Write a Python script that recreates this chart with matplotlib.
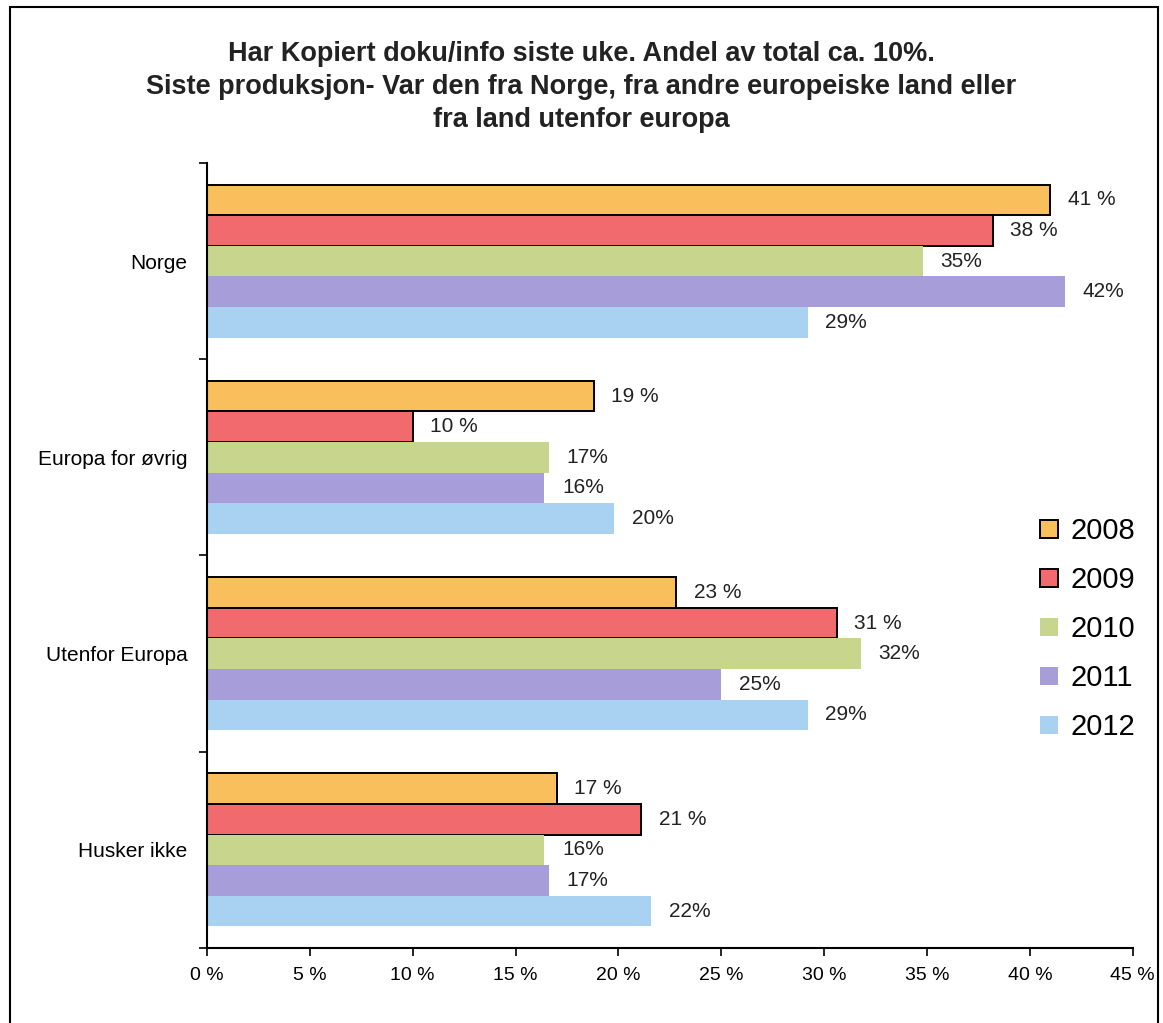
import numpy as np
import matplotlib.pyplot as plt
from matplotlib.patches import Rectangle

plt.rcParams['font.family'] = ['Liberation Sans', 'DejaVu Sans']

CATEGORIES = ["Norge", "Europa for øvrig", "Utenfor Europa", "Husker ikke"]
YEARS = ["2008", "2009", "2010", "2011", "2012"]

# andel (%) per aar, i samme rekkefolge som CATEGORIES
V2008 = [41.0, 18.8, 22.8, 17.0]
V2009 = [38.2, 10.0, 30.6, 21.1]
V2010 = [34.8, 16.6, 31.8, 16.4]
V2011 = [41.7, 16.4, 25.0, 16.6]
V2012 = [29.2, 19.8, 29.2, 21.6]

XTICKS = [0, 5, 10, 15, 20, 25, 30, 35, 40, 45]

TITLE = ("Har Kopiert doku/info siste uke. Andel av total ca. 10%.\n"
         "Siste produksjon- Var den fra Norge, fra andre europeiske land eller\n"
         "fra land utenfor europa")

COLORS = ['#F8BF5C', '#F06A6E', '#C8D58C', '#A79DD9', '#A9D1F1']
EDGES = ['black', 'black', 'none', 'none', 'none']
LABEL_FMT = ['{:.0f} %', '{:.0f} %', '{:.0f}%', '{:.0f}%', '{:.0f}%']


def plot_data():
    fig = plt.figure(figsize=(11.63, 10.23), dpi=100)
    ax = fig.add_axes([0.178, 0.0733, 0.796, 0.7674])

    series = [V2008, V2009, V2010, V2011, V2012]
    n_cat = len(CATEGORIES)
    bar_h = 0.156
    centres = np.arange(n_cat)[::-1].astype(float)  # Norge on top

    for i, vals in enumerate(series):
        offs = (2 - i) * bar_h
        ypos = centres + offs
        ax.barh(ypos, vals, height=bar_h, color=COLORS[i],
                edgecolor=EDGES[i], linewidth=1.4 if EDGES[i] != 'none' else 0,
                label=YEARS[i], zorder=2)
        for y, v in zip(ypos, vals):
            ax.text(v + 0.85, y, LABEL_FMT[i].format(v), va='center',
                    ha='left', fontsize=15, color='#222222')

    ax.set_xlim(0, 45)
    ax.set_ylim(-0.5, n_cat - 0.5)
    ax.set_xticks(XTICKS)
    ax.set_xticklabels([f'{t} %' for t in XTICKS], fontsize=14)
    ax.set_yticks(np.arange(n_cat + 1) - 0.5)
    ax.set_yticklabels([])
    ax.set_yticks(centres, minor=True)
    ax.set_yticklabels(CATEGORIES, minor=True, fontsize=15)
    ax.tick_params(axis='y', which='minor', length=0, pad=14)
    ax.tick_params(axis='y', which='major', length=6, width=1.2)
    ax.tick_params(axis='x', length=6, width=1.2, pad=8)
    for s in ['top', 'right']:
        ax.spines[s].set_visible(False)
    for s in ['left', 'bottom']:
        ax.spines[s].set_linewidth(1.5)

    fig.text(0.5, 0.915, TITLE, ha='center', va='center', fontsize=19.5,
             fontweight='bold', linespacing=1.36, color='#222222')

    ax.legend(loc='center left', bbox_to_anchor=(0.882, 0.385),
              bbox_transform=fig.transFigure, frameon=False, fontsize=21,
              handlelength=0.6, handleheight=0.6, handletextpad=0.45,
              labelspacing=0.72, borderpad=0)

    # ramme rundt hele figuren
    fig.patches.append(Rectangle((0.009, -0.05), 0.987, 1.043,
                                 transform=fig.transFigure, fill=False,
                                 edgecolor='black', linewidth=1.5))

    plt.savefig('out.png', dpi=100)


plot_data()
